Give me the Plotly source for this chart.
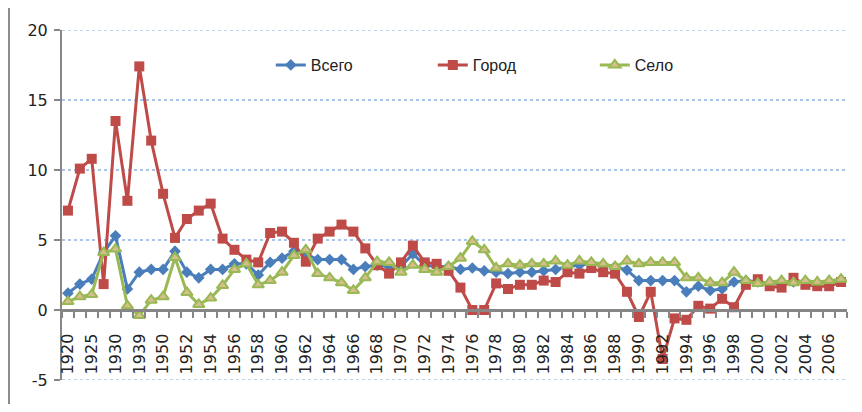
import plotly.graph_objects as go

years = ["1920", "1923", "1925", "1928", "1930", "1935", "1939", "1940"] + [str(y) for y in range(1950, 2008)]

total = [1.2, 1.85, 2.2, 4.1, 5.3, 1.5, 2.7, 2.9, 2.9, 4.2,
         2.7, 2.3, 2.9, 2.9, 3.3, 3.3, 2.5, 3.4, 3.7, 4.2,
         4.0, 3.6, 3.6, 3.6, 2.9, 3.1, 3.2, 3.1, 3.1, 4.0,
         3.2, 3.1, 3.1, 2.9, 3.0, 2.8, 2.7, 2.6, 2.7, 2.7,
         2.8, 2.9, 3.1, 3.2, 3.3, 3.2, 3.1, 2.85, 2.1, 2.1,
         2.1, 2.1, 1.3, 1.7, 1.4, 1.5, 2.0, 2.1, 2.0, 1.9,
         1.9, 2.0, 2.0, 1.9, 2.0, 2.1]

city = [7.1, 10.1, 10.8, 1.85, 13.5, 7.8, 17.4, 12.1, 8.3, 5.15,
        6.5, 7.1, 7.6, 5.1, 4.3, 3.6, 3.4, 5.5, 5.6, 4.8,
        3.45, 5.1, 5.6, 6.1, 5.6, 4.4, 3.2, 2.6, 3.4, 4.6,
        3.4, 3.3, 2.8, 1.6, 0.0, 0.0, 1.9, 1.5, 1.8, 1.8,
        2.1, 2.0, 2.7, 2.6, 3.0, 2.7, 2.6, 1.3, -0.5, 1.3,
        -3.5, -0.6, -0.7, 0.3, 0.1, 0.8, 0.2, 1.8, 2.2, 1.7,
        1.6, 2.3, 1.8, 1.7, 1.7, 2.0]

village = [0.6, 0.95, 1.1, 4.1, 4.35, 0.3, -0.4, 0.7, 0.95, 3.75,
           1.25, 0.4, 0.85, 1.75, 2.9, 3.3, 1.8, 2.1, 2.7, 3.9,
           4.3, 2.6, 2.3, 1.95, 1.4, 2.3, 3.45, 3.4, 2.7, 3.2,
           2.9, 2.7, 3.1, 3.7, 4.9, 4.3, 3.0, 3.3, 3.2, 3.3,
           3.3, 3.5, 3.2, 3.5, 3.4, 3.3, 3.1, 3.5, 3.3, 3.4,
           3.4, 3.4, 2.3, 2.3, 1.95, 1.95, 2.7, 2.1, 1.9, 2.0,
           2.1, 1.95, 2.1, 2.0, 2.1, 2.2]

y_ticks = [-5, 0, 5, 10, 15, 20]
y_tick_text = ["-5", "0", "5", "10", "15", "20"]

# trailing padding (kept from trimming by a zero-width char) pushes rotated labels off the axis
PAD = "\u00a0" * 3 + "\u200b"
tick_text = [(y + PAD) if i % 2 == 0 else "" for i, y in enumerate(years)]

AXFONT = "DejaVu Sans"
LEGFONT = "Liberation Sans"
GRID = "#A9C4EA"

fig = go.Figure()
fig.add_trace(go.Scatter(
    x=years, y=total, name="Всего", mode="lines+markers",
    line=dict(color="#4A7EBB", width=3),
    marker=dict(symbol="diamond", size=9, color="#4A7EBB"),
))
fig.add_trace(go.Scatter(
    x=years, y=city, name="Город", mode="lines+markers",
    line=dict(color="#BE4B48", width=3),
    marker=dict(symbol="square", size=10, color="#BE4B48"),
))
fig.add_trace(go.Scatter(
    x=years, y=village, name="Село", mode="lines+markers",
    line=dict(color="#98B954", width=3),
    marker=dict(symbol="triangle-up", size=10, color="#D8BE8C",
                line=dict(color="#98B954", width=2)),
))

# page body has an 8px margin, so the figure is drawn 8px smaller and offset
fig.update_layout(
    width=846, height=396,
    margin=dict(l=54, r=7, t=22, b=24),
    paper_bgcolor="white", plot_bgcolor="white",
    font=dict(family=AXFONT, size=16, color="#222"),
    showlegend=True,
    legend=dict(orientation="h", x=0.266, y=0.9, xanchor="left", yanchor="middle",
                entrywidth=117, entrywidthmode="pixels",
                font=dict(family=LEGFONT, size=16, color="#222"),
                bgcolor="rgba(0,0,0,0)"),
    xaxis=dict(
        type="category", categoryorder="array", categoryarray=years,
        range=[-0.5, len(years) - 0.5],
        anchor="free", position=0.2,
        tickmode="array", tickvals=years, ticktext=tick_text,
        tickson="boundaries", ticks="outside", ticklen=6, tickwidth=2,
        tickcolor="#868686", tickangle=-90,
        showline=True, linecolor="#868686", linewidth=3,
        showgrid=False, zeroline=False,
        tickfont=dict(family=AXFONT, size=16, color="#222"),
    ),
    yaxis=dict(
        range=[y_ticks[0], y_ticks[-1]],
        tickmode="array", tickvals=y_ticks, ticktext=y_tick_text,
        ticks="outside", ticklen=6, tickwidth=2, tickcolor="#868686",
        showline=True, linecolor="#868686", linewidth=2,
        showgrid=True, gridcolor=GRID, griddash="dot", gridwidth=1.5,
        zeroline=False, ticklabelstandoff=3,
        tickfont=dict(family=AXFONT, size=16, color="#222"),
    ),
)

for yv in (y_ticks[0], y_ticks[-1]):
    fig.add_shape(type="line", xref="paper", yref="y", x0=0, x1=1, y0=yv, y1=yv,
                  line=dict(color=GRID, width=1.5, dash="dot"), layer="below")

fig.add_shape(type="line", xref="paper", yref="paper",
              x0=-0.0675, x1=-0.0675, y0=-0.1, y1=1.1,
              line=dict(color="#8c8c8c", width=2))

fig.write_html("out.html")
